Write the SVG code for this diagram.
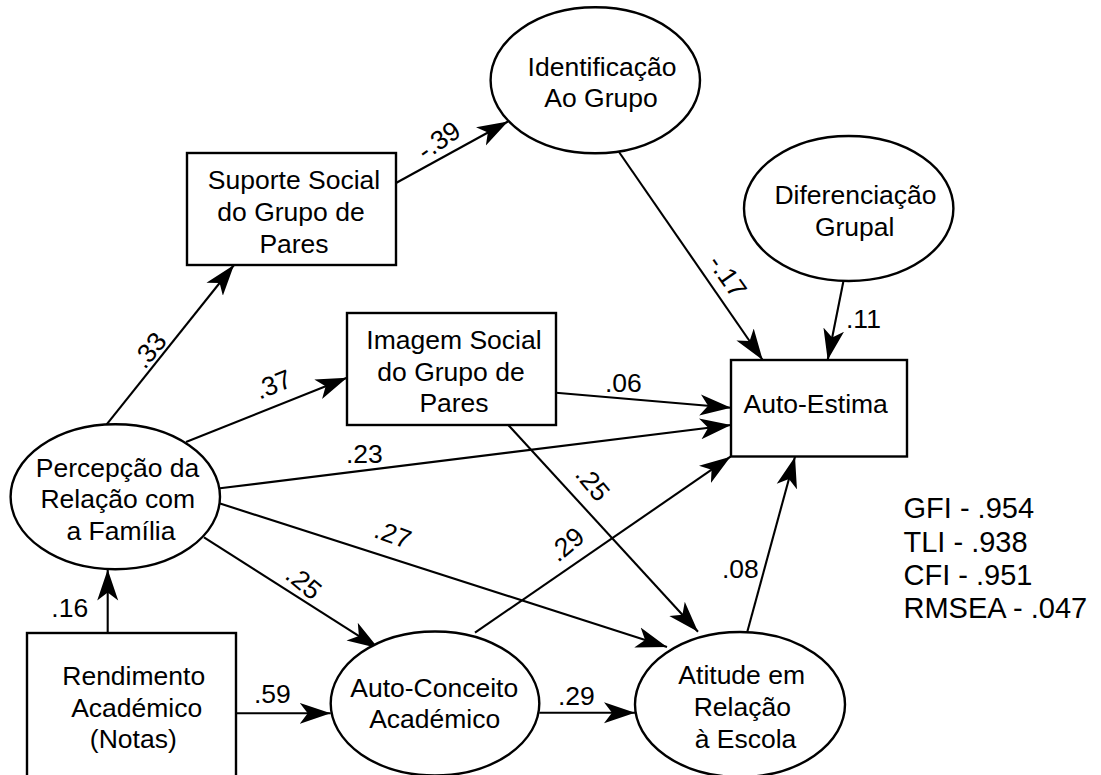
<svg xmlns="http://www.w3.org/2000/svg" width="1101" height="775" viewBox="0 0 1101 775">
<defs>
<style>
.n{fill:#fff;stroke:#000;stroke-width:2.4}
.t{font-family:"Liberation Sans",Arial,sans-serif;font-size:26.5px;fill:#000;text-anchor:middle}
.l{font-family:"Liberation Sans",Arial,sans-serif;font-size:26.5px;fill:#000}
.s{font-family:"Liberation Sans",Arial,sans-serif;font-size:29px;fill:#000}
.c line{stroke:#000;stroke-width:2.1;marker-end:url(#ah)}
</style>
<marker id="ah" viewBox="0 0 32 22" refX="31" refY="11" markerWidth="32" markerHeight="22" markerUnits="userSpaceOnUse" orient="auto">
<path d="M31,11 L0,0.5 L8,11 L0,21.5 Z" fill="#000"/>
</marker>
</defs>
<rect width="1101" height="775" fill="#fff"/>

<g id="connectors" class="c">
<line x1="106.7" y1="424.3" x2="234" y2="265"/>
<line x1="396" y1="183" x2="508" y2="121.5"/>
<line x1="186" y1="442" x2="347" y2="377.7"/>
<line x1="619" y1="152" x2="762.7" y2="360"/>
<line x1="843.3" y1="281.7" x2="827.7" y2="360"/>
<line x1="556" y1="392.7" x2="731" y2="407.7"/>
<line x1="220" y1="488.3" x2="731" y2="425"/>
<line x1="475" y1="632.7" x2="730.5" y2="456.7"/>
<line x1="747.3" y1="631.7" x2="795" y2="456.7"/>
<line x1="508.3" y1="425" x2="698" y2="631.7"/>
<line x1="220" y1="503.5" x2="667" y2="647"/>
<line x1="204" y1="537.3" x2="378.3" y2="648.3"/>
<line x1="107.7" y1="633" x2="107.7" y2="569.5"/>
<line x1="236" y1="713.3" x2="330.7" y2="713.3"/>
<line x1="539.3" y1="712.7" x2="635" y2="712.7"/>
</g>

<g id="labels">
<text class="t" transform="translate(149,350) rotate(-51)" y="9.5">.33</text>
<text class="t" transform="translate(438.5,140) rotate(-35)" y="9.5">-.39</text>
<text class="t" transform="translate(273,384) rotate(-22)" y="9.5">.37</text>
<text class="t" transform="translate(728,276) rotate(55)" y="9.5">-.17</text>
<text class="l" x="846" y="328.3">.11</text>
<text class="l" x="605" y="392">.06</text>
<text class="l" x="346" y="463.3">.23</text>
<text class="t" transform="translate(566,544) rotate(-40)" y="9.5">.29</text>
<text class="t" transform="translate(593,483) rotate(50)" y="9.5">.25</text>
<text class="t" transform="translate(393,534) rotate(20)" y="9.5">.27</text>
<text class="t" transform="translate(304,582) rotate(40)" y="9.5">.25</text>
<text class="l" x="722" y="577.7">.08</text>
<text class="l" x="51.3" y="616.7">.16</text>
<text class="l" x="254" y="703.3">.59</text>
<text class="l" x="558" y="705">.29</text>
</g>

<g id="suporte">
<rect class="n" x="187" y="153" width="209" height="112"/>
<text class="t" x="294" y="189">Suporte Social</text>
<text class="t" x="291" y="221">do Grupo de</text>
<text class="t" x="294" y="252.5">Pares</text>
</g>

<g id="identificacao">
<ellipse class="n" cx="595.3" cy="80.3" rx="104.7" ry="73"/>
<text class="t" x="602" y="76">Identificação</text>
<text class="t" x="601" y="107">Ao Grupo</text>
</g>

<g id="diferenciacao">
<ellipse class="n" cx="848.7" cy="208.5" rx="104.7" ry="72.5"/>
<text class="t" x="855.5" y="204.3">Diferenciação</text>
<text class="t" x="854.7" y="236">Grupal</text>
</g>

<g id="imagem">
<rect class="n" x="347" y="313" width="209" height="112"/>
<text class="t" x="454" y="349">Imagem Social</text>
<text class="t" x="451" y="381">do Grupo de</text>
<text class="t" x="454" y="412.3">Pares</text>
</g>

<g id="autoestima">
<rect class="n" x="731" y="360" width="176" height="96.5"/>
<text class="t" x="815.7" y="412.7">Auto-Estima</text>
</g>

<g id="percepcao">
<ellipse class="n" cx="115.3" cy="496.8" rx="104.7" ry="72.5"/>
<text class="t" x="117.5" y="476.7">Percepção da</text>
<text class="t" x="117.8" y="508.3">Relação com</text>
<text class="t" x="121" y="540">a Família</text>
</g>

<g id="rendimento">
<rect class="n" x="27" y="633" width="209" height="170"/>
<text class="t" x="133.7" y="685">Rendimento</text>
<text class="t" x="136.7" y="716.7">Académico</text>
<text class="t" x="133.3" y="748.3">(Notas)</text>
</g>

<g id="autoconceito">
<ellipse class="n" cx="435" cy="703.5" rx="104.3" ry="72"/>
<text class="t" x="434.2" y="696.7">Auto-Conceito</text>
<text class="t" x="434.7" y="727.7">Académico</text>
</g>

<g id="atitude">
<ellipse class="n" cx="740" cy="704.5" rx="105" ry="72.5"/>
<text class="t" x="741.7" y="684.3">Atitude em</text>
<text class="t" x="742.3" y="715.7">Relação</text>
<text class="t" x="745.5" y="748.3">à Escola</text>
</g>

<g id="stats">
<text class="s" x="903.5" y="518.3">GFI - .954</text>
<text class="s" x="903.5" y="551.7">TLI - .938</text>
<text class="s" x="903.5" y="585">CFI - .951</text>
<text class="s" x="903.5" y="618.3">RMSEA - .047</text>
</g>
</svg>
